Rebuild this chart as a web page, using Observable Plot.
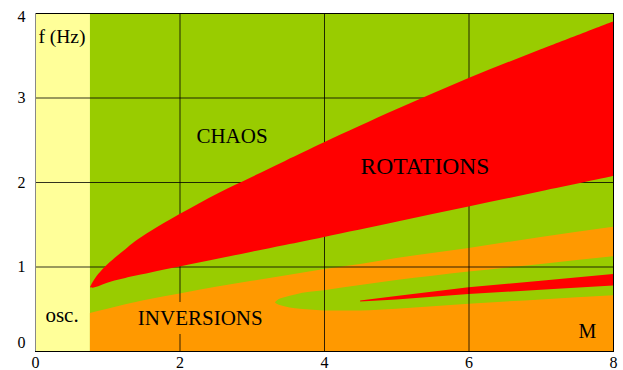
<!DOCTYPE html>
<html><head><meta charset="utf-8">
<script src="https://cdn.jsdelivr.net/npm/d3@7"></script>
<script src="https://cdn.jsdelivr.net/npm/@observablehq/plot@0.6"></script>
<style>
body{margin:0;background:#fff}
</style>
</head><body><div id="chart"></div>
<script>
// axis ticks
const xTicks = [0, 2, 4, 6, 8];
const yTicks = [0, 1, 2, 3, 4];
const gridXTicks = [2, 4, 6];
const gridYTicks = [1, 2, 3];
// domain limits (M, f)
const mMin = 0, mOsc = 0.76, mMax = 8, fMin = 0, fMax = 4;

// INVERSIONS region: upper boundary (orange, below)
const invX = [0.76, 1, 1.5, 2, 2.5, 3, 3.5, 4, 4.5, 5, 6, 7, 8];
const invTop = [0.45, 0.5, 0.6, 0.68, 0.76, 0.83, 0.9, 0.97, 1.03, 1.1, 1.22, 1.35, 1.47];

// chaos wedge inside inversions
const chaosWX = [3.32, 3.35, 3.45, 3.6, 3.8, 4, 4.5, 5, 5.5, 6, 7, 8];
const chaosWTop = [0.576, 0.6, 0.635, 0.67, 0.70, 0.72, 0.78, 0.84, 0.89, 0.94, 1.03, 1.12];
const chaosWBot = [0.576, 0.555, 0.53, 0.505, 0.49, 0.48, 0.48, 0.50, 0.53, 0.56, 0.61, 0.66];

// thin rotations wedge
const rotWX = [4.5, 5, 6, 7, 8];
const rotWTop = [0.597, 0.65, 0.754, 0.832, 0.91];
const rotWBot = [0.585, 0.61, 0.675, 0.725, 0.775];

// main ROTATIONS region
const rotX   = [0.76, 0.8, 0.85, 0.9, 0.97, 1.1, 1.25, 1.38, 1.6, 2, 2.54, 3, 3.46, 4, 5, 6, 7, 8];
const rotTop = [0.755, 0.82, 0.885, 0.935, 1.0, 1.1, 1.205, 1.295, 1.42, 1.62, 1.87, 2.06, 2.25, 2.47, 2.86, 3.23, 3.57, 3.9];
const rotBot = [0.755, 0.75, 0.76, 0.775, 0.80, 0.835, 0.865, 0.89, 0.93, 1.0, 1.095, 1.175, 1.255, 1.35, 1.53, 1.71, 1.89, 2.07];

// labels
const labelText = ["f (Hz)", "CHAOS", "ROTATIONS", "INVERSIONS", "osc.", "M"];
const labelX = [0.04, 2.72, 5.39, 2.28, 0.367, 7.64];
const labelY = [3.645, 2.467, 2.10, 0.308, 0.347, 0.154];

const zip3 = (xs, a, b) => xs.map((x, i) => ({x, lo: a[i], hi: b[i]}));
const invData = invX.map((x, i) => ({x, lo: 0, hi: invTop[i]}));
const chaosW = zip3(chaosWX, chaosWBot, chaosWTop);
const rotW = zip3(rotWX, rotWBot, rotWTop);
const rotData = zip3(rotX, rotBot, rotTop);
const labels = labelText.map((t, i) => ({t, x: labelX[i], y: labelY[i]}));
const lab = (names) => labels.filter(d => names.includes(d.t));

const YELLOW = "#ffff99", GREEN = "#99cc00", ORANGE = "#ff9900", RED = "#ff0000";
const font = "Liberation Serif";
const fmt = d => String(d);

const chart = Plot.plot({
  width: 623, height: 370,
  marginTop: 13, marginRight: 10, marginBottom: 19, marginLeft: 35,
  x: {domain: [mMin, mMax]},
  y: {domain: [fMin, fMax]},
  style: {background: "white", color: "black"},
  marks: [
    Plot.rect([{x1: mMin, x2: mOsc, y1: fMin, y2: fMax}], {x1: "x1", x2: "x2", y1: "y1", y2: "y2", fill: YELLOW}),
    Plot.rect([{x1: mOsc, x2: mMax, y1: fMin, y2: fMax}], {x1: "x1", x2: "x2", y1: "y1", y2: "y2", fill: GREEN}),
    Plot.areaY(invData, {x: "x", y1: "lo", y2: "hi", fill: ORANGE, curve: "monotone-x"}),
    Plot.areaY(chaosW, {x: "x", y1: "lo", y2: "hi", fill: GREEN, curve: "monotone-x"}),
    Plot.areaY(rotW, {x: "x", y1: "lo", y2: "hi", fill: RED, curve: "linear"}),
    Plot.gridX(gridXTicks, {stroke: "black", strokeOpacity: 0.8, strokeWidth: 1}),
    Plot.gridY(gridYTicks, {stroke: "black", strokeOpacity: 0.8, strokeWidth: 1}),
    Plot.areaY(rotData, {x: "x", y1: "lo", y2: "hi", fill: RED, curve: "catmull-rom"}),
    Plot.text(lab(["INVERSIONS"]), {x: "x", y: "y", text: "t", fontSize: 21, lineAnchor: "bottom", fill: "black", stroke: ORANGE, strokeWidth: 18}),
    Plot.text(lab(["CHAOS", "osc."]), {x: "x", y: "y", text: "t", fontSize: 21, lineAnchor: "bottom", fill: "black"}),
    Plot.text(lab(["ROTATIONS"]), {x: "x", y: "y", text: "t", fontSize: 23.5, lineAnchor: "bottom", fill: "black"}),
    Plot.text(lab(["M"]), {x: "x", y: "y", text: "t", fontSize: 20, lineAnchor: "bottom", fill: "black"}),
    Plot.text(lab(["f (Hz)"]), {x: "x", y: "y", text: "t", fontSize: 19.5, lineAnchor: "bottom", textAnchor: "start", fill: "black"}),
    Plot.frame({stroke: "black"}),
    Plot.ruleX([mMin], {stroke: "#888"}),
    Plot.axisX(xTicks, {tickSize: 0, tickPadding: 5, fontSize: 16, tickFormat: fmt}),
    Plot.axisY(yTicks.filter(v => v > fMin && v < fMax), {tickSize: 0, tickPadding: 10, fontSize: 16, tickFormat: fmt}),
    Plot.axisY([fMax], {tickSize: 0, tickPadding: 10, fontSize: 16, tickFormat: fmt, dy: 3}),
    Plot.axisY([fMin], {tickSize: 0, tickPadding: 10, fontSize: 16, tickFormat: fmt, dy: -9})
  ]
});
chart.setAttribute("font-family", font);
d3.select(chart).selectAll("g, text").style("font-family", font);
document.getElementById("chart").append(chart);
</script>
</body></html>
